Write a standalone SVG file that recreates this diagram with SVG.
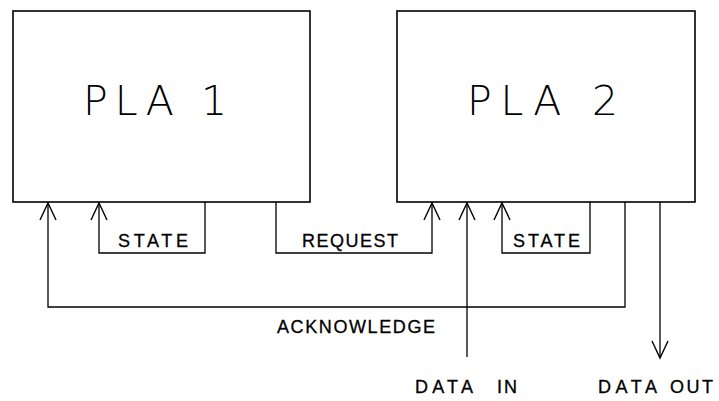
<svg xmlns="http://www.w3.org/2000/svg" width="719" height="401" viewBox="0 0 719 401">
  <style>
    .box { fill: none; stroke: #000; stroke-width: 1.6; }
    .wire { fill: none; stroke: #000; stroke-width: 1.3; }
    .head { fill: none; stroke: #000; stroke-width: 1.4; }
    .title { font-family: "DejaVu Sans", "Liberation Sans", sans-serif; font-weight: 200; font-size: 41px; fill: #000; }
    .lbl { font-family: "Liberation Sans", "DejaVu Sans", sans-serif; font-size: 18px; fill: #000; stroke: #000; stroke-width: 0.3; }
  </style>
  <rect width="719" height="401" fill="#fff"/>

  <g id="pla1">
    <rect class="box" x="13" y="11" width="297" height="191"/>
    <text class="title" x="83" y="115" textLength="144" lengthAdjust="spacing">PLA 1</text>
  </g>

  <g id="pla2">
    <rect class="box" x="397" y="11" width="298" height="191"/>
    <text class="title" x="467" y="115" textLength="151" lengthAdjust="spacing">PLA 2</text>
  </g>

  <g id="connectors">
    <!-- acknowledge loop: PLA2 output back to PLA1 -->
    <polyline class="wire" points="625,202 625,307 48,307 48,203"/>
    <path class="head" d="M40,220 L48,203 L56,220"/>
    <!-- PLA1 state feedback -->
    <polyline class="wire" points="205,202 205,253 99,253 99,203"/>
    <path class="head" d="M91,220 L99,203 L107,220"/>
    <!-- request from PLA1 to PLA2 -->
    <polyline class="wire" points="276,202 276,253 432,253 432,203"/>
    <path class="head" d="M424,220 L432,203 L440,220"/>
    <!-- data in -->
    <line class="wire" x1="467" y1="357" x2="467" y2="203"/>
    <path class="head" d="M459,220 L467,203 L475,220"/>
    <!-- PLA2 state feedback -->
    <polyline class="wire" points="590,202 590,253 502,253 502,203"/>
    <path class="head" d="M494,220 L502,203 L510,220"/>
    <!-- data out -->
    <line class="wire" x1="660" y1="202" x2="660" y2="357"/>
    <path class="head" d="M652,341 L660,358 L668,341"/>
  </g>

  <g id="labels">
    <text class="lbl" x="118" y="247" textLength="70" lengthAdjust="spacing">STATE</text>
    <text class="lbl" x="302" y="247" textLength="96" lengthAdjust="spacing">REQUEST</text>
    <text class="lbl" x="513" y="247" textLength="67" lengthAdjust="spacing">STATE</text>
    <text class="lbl" x="277" y="333" textLength="158" lengthAdjust="spacing">ACKNOWLEDGE</text>
    <text class="lbl" y="393"><tspan x="415" textLength="58" lengthAdjust="spacing">DATA</tspan><tspan x="497" textLength="20" lengthAdjust="spacing">IN</tspan></text>
    <text class="lbl" y="393"><tspan x="598" textLength="59" lengthAdjust="spacing">DATA</tspan><tspan x="670" textLength="43" lengthAdjust="spacing">OUT</tspan></text>
  </g>
</svg>
